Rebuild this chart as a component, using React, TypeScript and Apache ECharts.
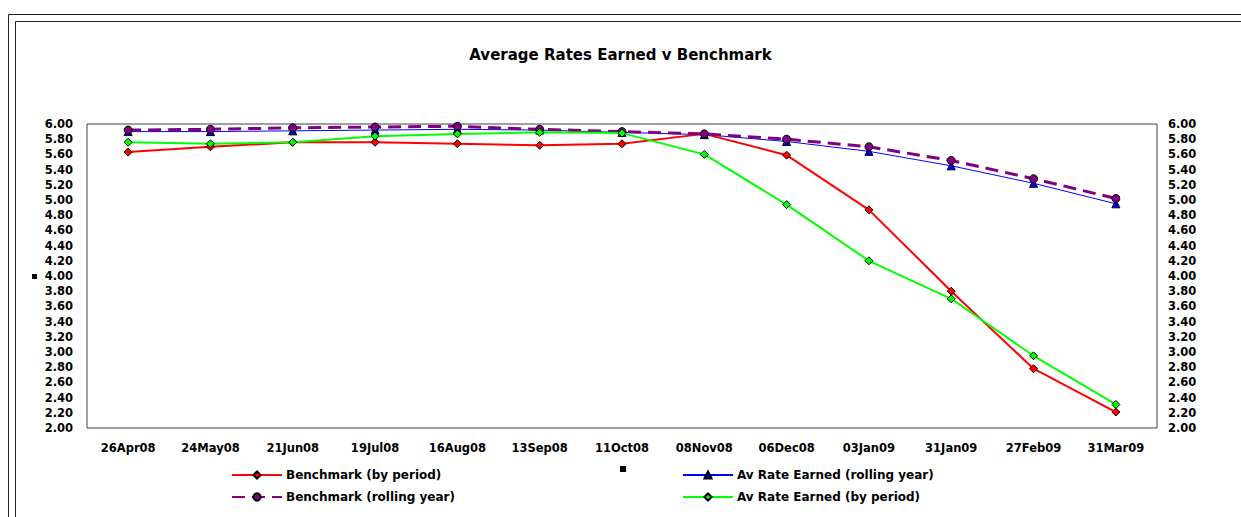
import React, { useEffect, useRef } from "react";
import * as echarts from "echarts";

// Period end dates (4-weekly reporting)
const categories = [
  "26Apr08", "24May08", "21Jun08", "19Jul08", "16Aug08", "13Sep08", "11Oct08",
  "08Nov08", "06Dec08", "03Jan09", "31Jan09", "27Feb09", "31Mar09",
];

// Rates (%)
const benchmarkByPeriod = [5.63, 5.70, 5.76, 5.76, 5.74, 5.72, 5.74, 5.87, 5.59, 4.87, 3.80, 2.78, 2.21];
const avRateRollingYear = [5.90, 5.90, 5.91, 5.92, 5.93, 5.92, 5.89, 5.86, 5.77, 5.64, 5.45, 5.22, 4.95];
const benchmarkRollingYear = [5.92, 5.93, 5.95, 5.96, 5.97, 5.93, 5.90, 5.87, 5.80, 5.70, 5.52, 5.28, 5.02];
const avRateByPeriod = [5.76, 5.74, 5.76, 5.84, 5.87, 5.89, 5.88, 5.60, 4.94, 4.20, 3.70, 2.95, 2.31];

const seriesNames = [
  "Benchmark (by period)",
  "Av Rate Earned (rolling year)",
  "Benchmark (rolling year)",
  "Av Rate Earned (by period)",
];

const FONT = "'DejaVu Sans', Arial, sans-serif";

export default function App() {
  const ref = useRef<HTMLDivElement>(null);

  useEffect(() => {
    if (!ref.current) return;
    const chart = echarts.init(ref.current, null, { renderer: "svg" });

    const axisLabelStyle = {
      fontFamily: FONT,
      fontWeight: "bold" as const,
      fontSize: 11.5,
      color: "#000",
    };

    const yAxisBase = {
      type: "value" as const,
      min: 2,
      max: 6,
      interval: 0.2,
      axisLine: { show: false },
      axisTick: { show: false },
      splitLine: { show: false },
    };

    const legendBase = {
      orient: "horizontal" as const,
      padding: 0,
      itemWidth: 50,
      itemHeight: 9,
      itemGap: 4,
      selectedMode: false,
      textStyle: { fontFamily: FONT, fontWeight: "bold" as const, fontSize: 12, color: "#000", padding: [0, 0, 0, -1] },
    };

    chart.setOption({
      animation: false,
      backgroundColor: "#fff",
      title: {
        text: "Average Rates Earned v Benchmark",
        left: "center",
        top: 42,
        textStyle: { fontFamily: FONT, fontWeight: "bold", fontSize: 15, color: "#000" },
      },
      legend: [
        { ...legendBase, data: [seriesNames[0]], left: 231, top: 469 },
        { ...legendBase, data: [seriesNames[1]], left: 682, top: 469 },
        { ...legendBase, data: [seriesNames[2]], left: 231, top: 491 },
        { ...legendBase, data: [seriesNames[3]], left: 682, top: 491 },
      ],
      grid: {
        left: 87,
        right: 84,
        top: 124,
        bottom: 89,
        show: true,
        borderColor: "#404040",
        borderWidth: 1,
        backgroundColor: "#fff",
        outerBoundsMode: "none",
      },
      xAxis: {
        type: "category",
        data: categories,
        boundaryGap: true,
        axisLine: { show: false },
        axisTick: { show: false },
        axisLabel: { ...axisLabelStyle, interval: 0, margin: 14 },
      },
      yAxis: [
        {
          ...yAxisBase,
          position: "left",
          axisLabel: { ...axisLabelStyle, margin: 14, formatter: (v: number) => v.toFixed(2) },
        },
        {
          ...yAxisBase,
          position: "right",
          axisLabel: { ...axisLabelStyle, margin: 11, formatter: (v: number) => v.toFixed(2) },
        },
      ],
      graphic: [
        // double frame around the chart
        {
          type: "rect",
          silent: true,
          shape: { x: 8.5, y: 14.5, width: 1300, height: 600 },
          style: { fill: "none", stroke: "#222", lineWidth: 1 },
        },
        {
          type: "rect",
          silent: true,
          shape: { x: 15.5, y: 21.5, width: 1300, height: 600 },
          style: { fill: "none", stroke: "#222", lineWidth: 1 },
        },
        // empty axis-title placeholders
        { type: "rect", silent: true, shape: { x: 32, y: 274, width: 5, height: 5 }, style: { fill: "#000" } },
        { type: "rect", silent: true, shape: { x: 620, y: 466, width: 6, height: 6 }, style: { fill: "#000" } },
      ],
      series: [
        {
          name: seriesNames[0],
          type: "line",
          data: benchmarkByPeriod,
          yAxisIndex: 0,
          symbol: "diamond",
          symbolSize: 8,
          z: 2,
          lineStyle: { color: "#ff0000", width: 2 },
          itemStyle: { color: "#ff0000", borderColor: "#000", borderWidth: 1 },
        },
        {
          name: seriesNames[1],
          type: "line",
          data: avRateRollingYear,
          yAxisIndex: 0,
          symbol: "triangle",
          symbolSize: 8,
          z: 3,
          lineStyle: { color: "#0000ff", width: 1 },
          itemStyle: { color: "#0000ff", borderColor: "#000", borderWidth: 1 },
        },
        {
          name: seriesNames[2],
          type: "line",
          data: benchmarkRollingYear,
          yAxisIndex: 0,
          symbol: "circle",
          symbolSize: 8,
          z: 4,
          lineStyle: { color: "#800080", width: 3, type: [13, 7] },
          itemStyle: { color: "#800080", borderColor: "#000", borderWidth: 1 },
        },
        {
          name: seriesNames[3],
          type: "line",
          data: avRateByPeriod,
          yAxisIndex: 0,
          symbol: "diamond",
          symbolSize: 8,
          z: 5,
          lineStyle: { color: "#00ff00", width: 2 },
          itemStyle: { color: "#00ff00", borderColor: "#000", borderWidth: 1 },
        },
      ],
    });

    return () => chart.dispose();
  }, []);

  return (
    <div
      ref={ref}
      style={{ position: "fixed", left: 0, top: 0, width: 1241, height: 517 }}
    />
  );
}
